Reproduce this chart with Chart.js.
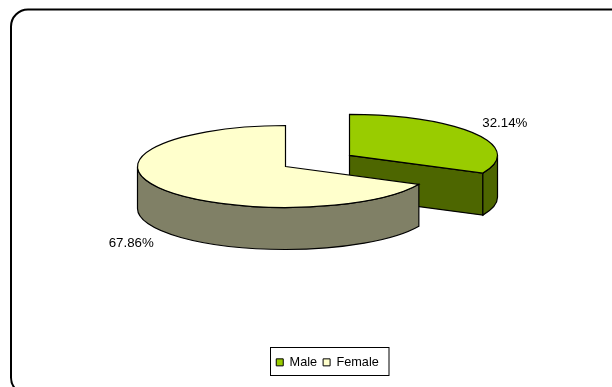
<!DOCTYPE html>
<html>
<head>
<meta charset="utf-8">
<style>html,body{margin:0;padding:0;background:#fff}canvas{display:block}</style>
<script src="https://cdn.jsdelivr.net/npm/chart.js@4"></script>
</head>
<body>
<canvas id="c" width="612" height="387"></canvas>
<script>
const categories = ['Male', 'Female'];
const values = [32.14, 67.86];
const valueLabels = ['32.14%', '67.86%'];
const topColors = ['#99CC00', '#FFFFCC'];
const wallColors = ['#4D6600', '#808066'];
const explode = [75.6, 0];
const labelOffsets = [[30, -10], [-29, 55]];

const CX = 285.5, CY = 166.5, R = 148, TILT = 41 / 148, DEPTH = 42;
const FONT = 'Liberation Sans, Arial, sans-serif';
const sy = y => CY + (y - CY) * TILT;

const pie3d = {
  id: 'pie3d',
  afterDatasetsUpdate(chart) {
    chart.getDatasetMeta(0).data.forEach((a, i) => {
      const mid = (a.startAngle + a.endAngle) / 2;
      a.x = CX + Math.cos(mid) * explode[i];
      a.y = CY + Math.sin(mid) * explode[i];
    });
  },
  afterLayout(chart) {
    const l = chart.legend;
    l.left = 227.5; l.right = 427.5; l.top = 350; l.bottom = 376;
    l.width = 200; l.height = 26;
  },
  beforeDraw(chart) {
    const ctx = chart.ctx;
    ctx.save();
    ctx.fillStyle = '#fff';
    ctx.fillRect(0, 0, 612, 387);
    ctx.beginPath();
    ctx.roundRect(11, 9.5, 660, 385, 17);
    ctx.lineWidth = 2;
    ctx.strokeStyle = '#000';
    ctx.stroke();
    ctx.restore();
  },
  beforeDatasetsDraw(chart) {
    const ctx = chart.ctx;
    const arcs = chart.getDatasetMeta(0).data;
    ctx.save();
    ctx.lineWidth = 1.2;
    ctx.strokeStyle = '#000';
    arcs.forEach((a, i) => {
      ctx.fillStyle = wallColors[i];
      const y0 = sy(a.y), r = a.outerRadius;
      const pt = ang => [a.x + r * Math.cos(ang), y0 + r * TILT * Math.sin(ang)];
      [[a.endAngle, Math.cos(a.endAngle) > 1e-6], [a.startAngle, Math.cos(a.startAngle) < -1e-6]].forEach(([ang, vis]) => {
        if (!vis) return;
        const p = pt(ang);
        ctx.beginPath();
        ctx.moveTo(a.x, y0);
        ctx.lineTo(p[0], p[1]);
        ctx.lineTo(p[0], p[1] + DEPTH);
        ctx.lineTo(a.x, y0 + DEPTH);
        ctx.closePath();
        ctx.fill();
        ctx.stroke();
      });
      const from = Math.max(a.startAngle, 0), to = Math.min(a.endAngle, Math.PI);
      if (to > from) {
        ctx.beginPath();
        ctx.ellipse(a.x, y0, r, r * TILT, 0, from, to);
        ctx.ellipse(a.x, y0 + DEPTH, r, r * TILT, 0, to, from, true);
        ctx.closePath();
        ctx.fill();
        ctx.stroke();
      }
    });
    ctx.restore();
    ctx.save();
    ctx.translate(0, CY);
    ctx.scale(1, TILT);
    ctx.translate(0, -CY);
  },
  afterDatasetsDraw(chart) {
    const ctx = chart.ctx;
    ctx.restore();
    const arcs = chart.getDatasetMeta(0).data;
    ctx.save();
    ctx.lineWidth = 1.2;
    ctx.strokeStyle = '#000';
    arcs.forEach((a) => {
      const y0 = sy(a.y);
      ctx.beginPath();
      ctx.moveTo(a.x, y0);
      ctx.ellipse(a.x, y0, a.outerRadius, a.outerRadius * TILT, 0, a.startAngle, a.endAngle);
      ctx.closePath();
      ctx.stroke();
    });
    ctx.fillStyle = '#000';
    ctx.font = '13.3px ' + FONT;
    ctx.textAlign = 'center';
    ctx.textBaseline = 'middle';
    arcs.forEach((a, i) => {
      const mid = (a.startAngle + a.endAngle) / 2;
      const x = a.x + a.outerRadius * Math.cos(mid);
      const y = sy(a.y) + a.outerRadius * TILT * Math.sin(mid);
      ctx.fillText(valueLabels[i], x + labelOffsets[i][0], y + labelOffsets[i][1]);
    });
    ctx.lineWidth = 1;
    ctx.strokeRect(270.5, 347.5, 118.5, 28);
    ctx.restore();
  }
};

new Chart(document.getElementById('c'), {
  type: 'pie',
  data: {
    labels: categories,
    datasets: [{
      data: values,
      backgroundColor: topColors,
      borderWidth: 0,
      clip: false
    }]
  },
  options: {
    responsive: false,
    animation: false,
    events: [],
    radius: R,
    plugins: {
      title: { display: false },
      tooltip: { enabled: false },
      legend: {
        display: true,
        position: 'bottom',
        labels: {
          color: '#000',
          boxWidth: 7,
          boxHeight: 7,
          padding: 6,
          font: { family: FONT, size: 12.7 },
          generateLabels: () => categories.map((name, i) => ({
            text: name,
            fillStyle: topColors[i],
            strokeStyle: '#000',
            lineWidth: 1,
            hidden: false,
            index: i
          }))
        }
      }
    }
  },
  plugins: [pie3d]
});
</script>
</body>
</html>
